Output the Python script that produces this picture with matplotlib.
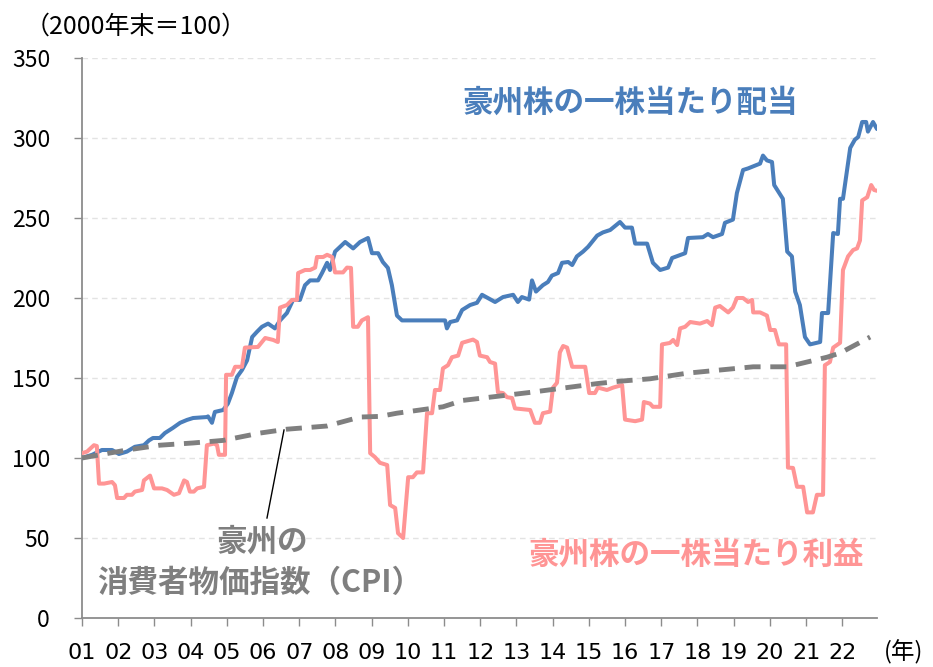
import matplotlib
matplotlib.use("Agg")
import matplotlib.pyplot as plt
import numpy as np

plt.rcParams['font.family'] = ['Noto Sans CJK JP', 'DejaVu Sans']

# x values are years elapsed since the start of 2001
div_t = [0.00, 0.28, 0.55, 0.83, 1.02, 1.24, 1.46, 1.71, 1.85, 1.96, 2.15, 2.29, 2.51, 2.71, 2.90,
         3.07, 3.45, 3.48, 3.59, 3.67, 3.90, 4.03, 4.14, 4.28, 4.42, 4.56, 4.70, 4.83, 4.97, 5.14,
         5.33, 5.47, 5.66, 5.83, 6.02, 6.16, 6.30, 6.52, 6.63, 6.77, 6.85, 6.99, 7.27, 7.49, 7.68,
         7.90, 8.01, 8.18, 8.31, 8.45, 8.56, 8.70, 8.84, 10.03, 10.08, 10.17, 10.36, 10.50, 10.72,
         10.91, 11.05, 11.41, 11.63, 11.91, 12.04, 12.15, 12.35, 12.43, 12.54, 12.73, 12.87, 12.98,
         13.15, 13.26, 13.43, 13.54, 13.67, 13.84, 13.98, 14.23, 14.39, 14.59, 14.86, 15.00, 15.19,
         15.28, 15.61, 15.77, 15.97, 16.19, 16.30, 16.66, 16.74, 17.15, 17.29, 17.43, 17.68, 17.76,
         17.98, 18.09, 18.26, 18.40, 18.73, 18.81, 18.92, 19.06, 19.12, 19.36, 19.48, 19.61, 19.70,
         19.83, 19.97, 20.11, 20.39, 20.44, 20.61, 20.75, 20.88, 20.94, 21.02, 21.22, 21.35, 21.44,
         21.55, 21.66, 21.71, 21.85, 21.96]
div_v = [100, 102, 105, 105, 102.5, 104, 107, 108, 111, 112.5, 112.5, 115.6, 118.8, 122, 123.8,
         125, 125.6, 126, 122, 128.8, 130, 134, 140.6, 150.6, 155, 161, 175.6, 178.8, 182, 184,
         181, 186, 190.6, 198.8, 198.8, 208, 211, 211, 215.6, 222, 217.5, 229, 235, 231, 235,
         237.5, 228, 228, 222.5, 218.8, 208, 189, 186, 186, 181, 185, 186, 192.5, 195.6,
         197, 202, 197.5, 200.6, 202, 197.5, 200.6, 199, 211, 204, 208, 210, 214,
         215.6, 222, 222.5, 220.6, 226, 229, 232, 239, 241, 242.5, 247.5, 244, 244,
         234, 234, 222, 217.5, 219, 225, 228, 237.5, 238, 240, 238, 240, 247,
         249, 265.6, 280, 281, 284, 289, 286, 285, 270.6, 262, 229, 226, 204,
         195.6, 175.6, 171, 172.5, 190.6, 190.6, 240.6, 240, 262, 262, 293.8, 299, 300.6,
         310, 310, 304, 310, 305.6]

eps_t = [0.00, 0.14, 0.33, 0.41, 0.47, 0.61, 0.83, 0.91, 0.97, 1.16, 1.24, 1.38, 1.46, 1.66, 1.71,
         1.88, 1.99, 2.21, 2.35, 2.54, 2.68, 2.82, 2.90, 2.98, 3.09, 3.18, 3.37, 3.45, 3.65, 3.73,
         3.78, 3.95, 3.98, 4.14, 4.23, 4.42, 4.50, 4.86, 5.06, 5.28, 5.41, 5.47, 5.66, 5.80, 5.94,
         5.97, 6.16, 6.30, 6.44, 6.49, 6.66, 6.77, 6.91, 6.99, 7.21, 7.32, 7.43, 7.49, 7.62, 7.73,
         7.90, 7.96, 8.09, 8.23, 8.43, 8.51, 8.65, 8.73, 8.87, 9.01, 9.14, 9.25, 9.42, 9.53, 9.67,
         9.75, 9.89, 9.97, 10.11, 10.22, 10.39, 10.50, 10.80, 10.91, 10.99, 11.19, 11.27, 11.41,
         11.49, 11.63, 11.74, 11.88, 11.96, 12.38, 12.51, 12.65, 12.73, 12.93, 13.01, 13.12, 13.20,
         13.29, 13.40, 13.54, 13.90, 14.01, 14.17, 14.25, 14.50, 14.67, 14.92, 15.00, 15.28, 15.47,
         15.52, 15.69, 15.77, 15.97, 16.02, 16.24, 16.33, 16.44, 16.52, 16.66, 16.80, 17.07, 17.27,
         17.40, 17.49, 17.62, 17.85, 17.98, 18.09, 18.26, 18.40, 18.51, 18.54, 18.73, 18.92, 19.01,
         19.14, 19.25, 19.45, 19.50, 19.64, 19.75, 19.92, 20.03, 20.19, 20.30, 20.47, 20.52, 20.66,
         20.75, 20.94, 21.02, 21.16, 21.30, 21.41, 21.49, 21.55, 21.69, 21.80, 21.88, 21.96]
eps_v = [103, 104, 108, 107.5, 84, 84, 85, 83, 75, 75, 77, 77, 79, 80, 86,
         89, 81, 81, 80, 77, 78, 86, 85, 79, 79, 81, 82, 108, 109, 108,
         102, 102, 152, 152, 157, 157, 169, 169.4, 175, 173.8, 172.5, 194, 195.6, 198.8, 198.8,
         215.6, 217.5, 217.5, 219, 225.6, 225.6, 227, 225.6, 216, 216, 219, 218.8, 182, 182, 186,
         188, 103, 100.6, 97, 95.6, 70.6, 68.8, 53, 50, 88, 88, 91, 91, 128, 128,
         142.5, 142.5, 156, 158, 163, 164, 172, 174, 172.5, 164, 163, 160, 159,
         141, 140.6, 138, 137.5, 131, 130, 122, 122, 128, 129, 144, 147, 166,
         170, 169, 157, 157, 140.6, 140.6, 144, 142.5, 144, 145.6, 124, 123, 124,
         135, 134, 132, 132, 171, 171.9, 173.8, 170.6, 181, 182, 185, 184, 185.6,
         183, 194, 195, 191, 194, 200, 200, 197.5, 198.8, 191, 191, 189, 180,
         180, 171, 171, 94, 93.8, 82, 82, 66, 66, 77, 77, 158, 160,
         169, 172, 217.5, 226, 230, 231, 236, 261, 263, 270.6, 267.5, 267]

cpi_t = [0.00, 1.24, 2.15, 3.07, 3.90, 4.92, 5.66, 6.77, 7.68, 8.23, 8.70, 9.97, 10.52, 12.38,
         14.23, 14.86, 15.69, 16.71, 18.54, 19.48, 20.58, 20.94, 21.77]
cpi_v = [100, 105, 108, 109.4, 111, 115.6, 118, 120, 125.6, 126, 128, 132, 136, 141,
         146.5, 148, 149.5, 153, 157, 157, 163, 165.6, 175.6]

year_labels = ['01', '02', '03', '04', '05', '06', '07', '08', '09', '10', '11',
               '12', '13', '14', '15', '16', '17', '18', '19', '20', '21', '22']

BLUE = '#4A7EBB'
PINK = '#FF9595'
GRAY = '#7F7F7F'
AXC = '#8C8C8C'

fig = plt.figure(figsize=(9.33, 6.67), dpi=100)
ax = fig.add_axes([82/933, 1-618/667, (877-82)/933, (618-58)/667])

ax.plot(div_t, div_v, color=BLUE, lw=2.9, solid_joinstyle='round', solid_capstyle='round', zorder=3)
ax.plot(eps_t, eps_v, color=PINK, lw=2.9, solid_joinstyle='round', solid_capstyle='round', zorder=4)
ln, = ax.plot(cpi_t, cpi_v, color=GRAY, lw=3.5, zorder=5)
ln.set_dashes([3.3, 2.0])

ax.set_xlim(0, 21.96)
ax.set_ylim(0, 350)
ax.set_yticks(np.arange(0, 351, 50))
ax.set_xticks(np.arange(len(year_labels)))
ax.set_xticklabels(year_labels, fontsize=16, family=['Liberation Sans Narrow', 'DejaVu Sans'])
for lab in ax.get_yticklabels():
    lab.set_fontsize(16.5)
ax.tick_params(axis='y', length=6, width=1, color=AXC, pad=17, labelcolor='black')
ax.tick_params(axis='x', length=6, width=1, color=AXC, pad=12, labelcolor='black')

for y in range(50, 351, 50):
    ax.axhline(y, color='#E3E3E3', lw=1.0, ls=(0, (4, 3)), zorder=1)

for s in ['top', 'right']:
    ax.spines[s].set_visible(False)
for s in ['left', 'bottom']:
    ax.spines[s].set_color(AXC)
    ax.spines[s].set_linewidth(1.3)

ax.text(15.14, 321.9, '豪州株の一株当たり配当', color=BLUE, fontsize=22, fontweight='bold',
        ha='center', va='center')
ax.text(16.96, 39.4, '豪州株の一株当たり利益', color=PINK, fontsize=22, fontweight='bold',
        ha='center', va='center')
ax.text(4.97, 47.5, '豪州の', color=GRAY, fontsize=22, fontweight='bold', ha='center', va='center')
ax.text(4.92, 21.9, '消費者物価指数（CPI）', color=GRAY, fontsize=22, fontweight='bold',
        ha='center', va='center')
ax.plot([5.11, 5.58], [62.5, 117.5], color='black', lw=1.0, zorder=6)

fig.text(136/933, 1-27/667, '（2000年末＝100）', fontsize=18, ha='center', va='center')
fig.text(904/933, 1-652/667, '(年)', fontsize=17, ha='center', va='center')

fig.savefig('out.png', dpi=100)
